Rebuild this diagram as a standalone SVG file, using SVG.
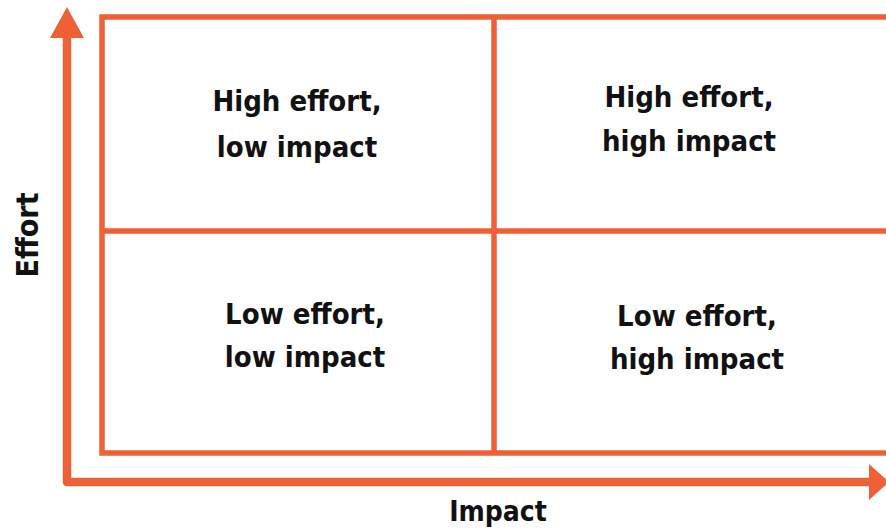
<svg xmlns="http://www.w3.org/2000/svg" width="886" height="531" viewBox="0 0 886 531">
<style>
.ln{fill:none;stroke:#EE6035;stroke-width:5.5}
.ax{fill:none;stroke:#EE6035;stroke-width:8.5;stroke-linejoin:round;stroke-linecap:butt}
.ah{fill:#EE6035}
text{font-family:"DejaVu Sans Condensed","DejaVu Sans",sans-serif;font-weight:bold;font-size:29px;fill:#111;text-anchor:middle}
</style>
<rect width="886" height="531" fill="#fff"/>
<g id="connectors">
<path class="ax" d="M67 34 V482 H872"/>
<polygon class="ah" points="67,7 50,38 84,38"/>
<polygon class="ah" points="889,482 869,464 869,500"/>
</g>
<g id="grid">
<rect class="ln" x="102" y="17" width="787" height="436"/>
<line class="ln" x1="494" y1="17" x2="494" y2="453"/>
<line class="ln" x1="102" y1="231" x2="889" y2="231"/>
</g>
<g id="q-tl"><text x="297" y="111">High effort,</text><text x="297" y="157">low impact</text></g>
<g id="q-tr"><text x="689" y="107">High effort,</text><text x="689" y="151">high impact</text></g>
<g id="q-bl"><text x="305" y="324">Low effort,</text><text x="305" y="367">low impact</text></g>
<g id="q-br"><text x="697" y="326">Low effort,</text><text x="697" y="369">high impact</text></g>
<g id="label-y"><text transform="translate(38,235) rotate(-90)" style="font-size:30px">Effort</text></g>
<g id="label-x"><text x="498" y="521" style="font-size:28px">Impact</text></g>
</svg>
